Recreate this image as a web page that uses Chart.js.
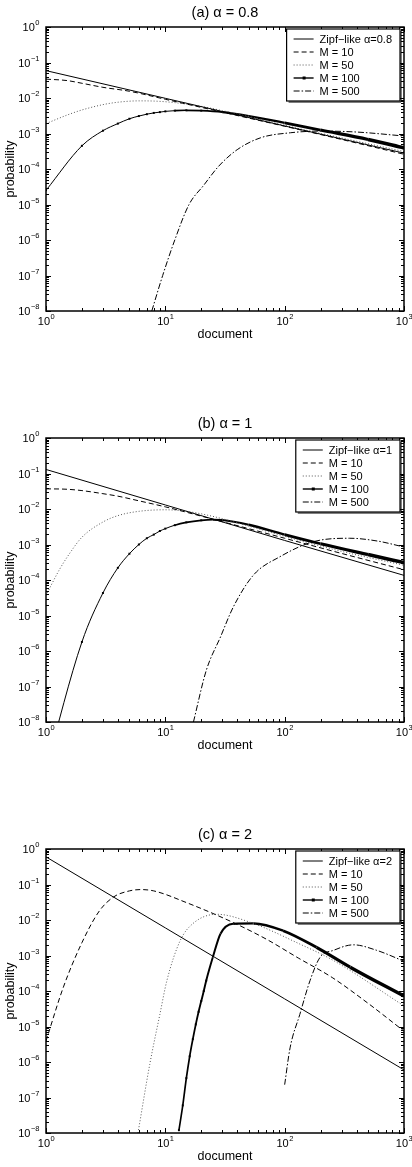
<!DOCTYPE html>
<html>
<head>
<meta charset="utf-8">
<script src="https://cdn.jsdelivr.net/npm/chart.js@4.4.1/dist/chart.umd.min.js"></script>
<style>
  html, body { margin: 0; padding: 0; background: #fff; }
  .panel { position: absolute; left: 0; width: 412px; height: 345px; }
</style>
</head>
<body>
<div class="panel" style="top:0"><canvas id="c0" width="412" height="345"></canvas></div>
<div class="panel" style="top:411px"><canvas id="c1" width="412" height="345"></canvas></div>
<div class="panel" style="top:822px"><canvas id="c2" width="412" height="345"></canvas></div>
<script>
// ---- text / ticks ----
var titles = ['(a) \u03b1 = 0.8', '(b) \u03b1 = 1', '(c) \u03b1 = 2'];
var zipfNames = ['Zipf\u2212like \u03b1=0.8', 'Zipf\u2212like \u03b1=1', 'Zipf\u2212like \u03b1=2'];
var mNames = ['M = 10', 'M = 50', 'M = 100', 'M = 500'];
var xTickExp = [0, 1, 2, 3];
var yTickExp = [0, -1, -2, -3, -4, -5, -6, -7, -8];

// ---- panel (a) alpha = 0.8 ----
var aZipfX = [1, 10, 100, 1000];
var aZipfY = [0.059, 0.0098, 0.00163, 0.00028];
var aM10X = [1, 1.5, 2, 3, 5, 10, 30, 100, 300, 1000];
var aM10Y = [0.034, 0.031, 0.026, 0.020, 0.0155, 0.0092, 0.0040, 0.0016, 0.00068, 0.00026];
var aM50X = [1, 1.5, 2, 3, 4, 6, 8, 12, 20, 30, 60, 100, 300, 1000];
var aM50Y = [0.0019, 0.0033, 0.0046, 0.0065, 0.0076, 0.0083, 0.0082, 0.0074, 0.0058, 0.0044, 0.0026, 0.0017, 0.00075, 0.00031];
var aM100X = [1, 2, 3, 4, 5, 6, 7, 8, 9, 10, 12, 15, 20, 30, 50, 100, 200, 500, 1000];
var aM100Y = [2.5e-5, 4.5e-4, 1.2e-3, 1.9e-3, 2.6e-3, 3.1e-3, 3.5e-3, 3.8e-3, 4.0e-3, 4.2e-3, 4.4e-3, 4.5e-3, 4.4e-3, 4.0e-3, 3.1e-3, 2.0e-3, 1.25e-3, 6.8e-4, 3.9e-4];
var aM500X = [7.7, 9.5, 12, 15.8, 21, 28, 40, 63, 112, 200, 400, 1000];
var aM500Y = [1e-8, 1e-7, 1e-6, 1e-5, 3.5e-5, 1.2e-4, 3.5e-4, 7.6e-4, 1.05e-3, 1.17e-3, 1.1e-3, 8.5e-4];

// ---- panel (b) alpha = 1 ----
var bZipfX = [1, 10, 100, 1000];
var bZipfY = [0.13, 0.013, 0.0013, 0.000135];
var bM10X = [1, 1.5, 2, 3, 4, 6, 10, 20, 30, 100, 300, 1000];
var bM10Y = [0.037, 0.036, 0.033, 0.027, 0.023, 0.017, 0.0115, 0.0063, 0.0044, 0.0015, 0.00056, 0.000195];
var bM50X = [1, 1.3, 1.6, 2, 3, 4, 6, 10, 15, 25, 50, 100, 300, 1000];
var bM50Y = [3.7e-5, 2e-4, 6e-4, 1.6e-3, 4.3e-3, 6.5e-3, 8.6e-3, 9.5e-3, 8.6e-3, 6.2e-3, 3.3e-3, 1.7e-3, 6.4e-4, 2.6e-4];
var bM100X = [1, 2, 3, 4, 5, 6, 7, 8, 9, 10, 12, 15, 20, 25, 30, 50, 100, 200, 500, 1000];
var bM100Y = [5e-10, 1.8e-6, 4.3e-5, 2.2e-4, 5.5e-4, 1.0e-3, 1.5e-3, 1.9e-3, 2.4e-3, 2.8e-3, 3.5e-3, 4.2e-3, 4.8e-3, 5.0e-3, 4.9e-3, 3.6e-3, 1.9e-3, 1.05e-3, 5.2e-4, 3.1e-4];
var bM500X = [17.2, 22, 29, 37, 55, 91, 174, 350, 600, 1000];
var bM500Y = [1e-8, 2.8e-7, 2.5e-6, 1.7e-5, 1.4e-4, 4.5e-4, 1.2e-3, 1.5e-3, 1.25e-3, 8.5e-4];

// ---- panel (c) alpha = 2 ----
var cZipfX = [1, 10, 100, 1000];
var cZipfY = [0.6, 0.006, 6e-5, 6e-7];
var cM10X = [1, 1.4, 2, 2.8, 3.7, 5, 6.2, 8, 15, 37, 70, 130, 250, 500, 1000];
var cM10Y = [3.9e-6, 1.3e-4, 2.3e-3, 0.018, 0.045, 0.066, 0.072, 0.066, 0.031, 8.5e-3, 2.9e-3, 8.5e-4, 2.4e-4, 4.5e-5, 7.4e-6];
var cM50X = [5.9, 7.4, 9, 10.3, 13.3, 17, 27, 51, 134, 257, 1000];
var cM50Y = [1e-8, 8.5e-7, 2.2e-5, 1.95e-4, 2.6e-3, 7.9e-3, 0.0145, 8.7e-3, 2.1e-3, 7.2e-4, 3.8e-5];
var cM100X = [13, 14, 15, 16, 17, 18, 19, 20, 21, 22, 25, 29, 37, 55, 97, 185, 354, 1000];
var cM100Y = [1.2e-8, 6e-8, 3.5e-7, 1.45e-6, 4.4e-6, 1.15e-5, 2.6e-5, 5.2e-5, 1.0e-4, 1.95e-4, 8.9e-4, 4.1e-3, 7.8e-3, 8.0e-3, 5.0e-3, 1.7e-3, 4.7e-4, 7.2e-5];
var cM500X = [100, 111, 134, 163, 198, 257, 377, 590, 1000];
var cM500Y = [2.3e-7, 2.5e-6, 2.2e-5, 1.95e-4, 8.9e-4, 1.4e-3, 2.0e-3, 1.4e-3, 6.9e-4];

var FONT = "'Liberation Sans', Arial, Helvetica, sans-serif";

function pts(xs, ys) {
  return xs.map(function (x, i) { return { x: x, y: ys[i] }; });
}

// draws "10" with a raised exponent
function powLabel(ctx, e, x, y, align) {
  var base = '10', ex = e < 0 ? '\u2212' + (-e) : String(e);
  ctx.font = '11px ' + FONT;
  var wb = ctx.measureText(base).width;
  ctx.font = '7.5px ' + FONT;
  var we = ctx.measureText(ex).width;
  var left = align === 'right' ? x - wb - we : x - (wb + we) / 2;
  ctx.textAlign = 'left';
  ctx.textBaseline = 'middle';
  ctx.font = '11px ' + FONT;
  ctx.fillText(base, left, y);
  ctx.font = '7.5px ' + FONT;
  ctx.fillText(ex, left + wb + 0.5, y - 5);
}

var matlabAxes = {
  id: 'matlabAxes',
  afterDatasetsDraw: function (chart, args, opts) {
    var ctx = chart.ctx, a = chart.chartArea;
    var xs = chart.scales.x, ys = chart.scales.y;
    ctx.save();
    ctx.strokeStyle = '#000';
    ctx.fillStyle = '#000';

    // inward ticks on all four sides
    ctx.lineWidth = 1;
    ctx.beginPath();
    xTickExp.forEach(function (e, i) {
      for (var k = 1; k <= 9; k++) {
        if (k > 1 && i === xTickExp.length - 1) break;
        var px = Math.round(xs.getPixelForValue(k * Math.pow(10, e))) + 0.5;
        var len = k === 1 ? 5 : 3;
        ctx.moveTo(px, a.bottom); ctx.lineTo(px, a.bottom - len);
        ctx.moveTo(px, a.top); ctx.lineTo(px, a.top + len);
      }
    });
    yTickExp.forEach(function (e, i) {
      for (var k = 1; k <= 9; k++) {
        if (k > 1 && i === 0) break;
        var py = Math.round(ys.getPixelForValue(k * Math.pow(10, e))) + 0.5;
        var len = k === 1 ? 5 : 3;
        ctx.moveTo(a.left, py); ctx.lineTo(a.left + len, py);
        ctx.moveTo(a.right, py); ctx.lineTo(a.right - len, py);
      }
    });
    ctx.stroke();

    // axes box
    ctx.lineWidth = 1.5;
    ctx.strokeRect(a.left, a.top, a.right - a.left, a.bottom - a.top);

    // tick labels
    xTickExp.forEach(function (e) {
      powLabel(ctx, e, xs.getPixelForValue(Math.pow(10, e)), a.bottom + 11, 'center');
    });
    yTickExp.forEach(function (e) {
      powLabel(ctx, e, a.left - 7, ys.getPixelForValue(Math.pow(10, e)) + 1, 'right');
    });

    // title and axis labels
    ctx.textAlign = 'center';
    ctx.textBaseline = 'middle';
    ctx.font = '14.5px ' + FONT;
    ctx.fillText(opts.title, (a.left + a.right) / 2, 13);
    ctx.font = '12.5px ' + FONT;
    ctx.fillText('document', (a.left + a.right) / 2, a.bottom + 24);
    ctx.save();
    ctx.translate(11, (a.top + a.bottom) / 2);
    ctx.rotate(-Math.PI / 2);
    ctx.fillText('probability', 0, 0);
    ctx.restore();

    // legend box in the upper right corner
    var sets = chart.data.datasets;
    ctx.font = '11px ' + FONT;
    var maxW = 0;
    sets.forEach(function (d) { maxW = Math.max(maxW, ctx.measureText(d.label).width); });
    var rowH = 13, bw = 33 + maxW + 8, bh = sets.length * rowH + 7;
    var bx = a.right - 4 - bw, by = a.top + 2;
    ctx.fillStyle = '#fff';
    ctx.fillRect(bx, by, bw, bh);
    ctx.fillStyle = '#000';
    ctx.lineWidth = 1.2;
    ctx.strokeRect(bx, by, bw, bh);
    ctx.lineWidth = 1;
    ctx.beginPath();
    ctx.moveTo(bx + bw + 1, by + 2); ctx.lineTo(bx + bw + 1, by + bh + 1); ctx.lineTo(bx + 2, by + bh + 1);
    ctx.stroke();
    sets.forEach(function (d, i) {
      var cy = by + 10 + i * rowH;
      ctx.save();
      ctx.strokeStyle = d.borderColor;
      ctx.lineWidth = d.legendWidth || 1;
      ctx.setLineDash(d.borderDash || []);
      ctx.beginPath();
      ctx.moveTo(bx + 7, cy); ctx.lineTo(bx + 27, cy);
      ctx.stroke();
      ctx.restore();
      if (d.legendMarker) {
        ctx.fillRect(bx + 16, cy - 1.5, 3, 3);
      }
      ctx.textAlign = 'left';
      ctx.textBaseline = 'middle';
      ctx.fillText(d.label, bx + 33, cy + 0.5);
    });
    ctx.restore();
  }
};

// dense markers at every document make the M = 100 line look thicker to the right
function m100Width(ctx) {
  var x = ctx.p0.parsed.x;
  if (x < 12) return 1;
  return Math.min(4, 1.5 + 1.25 * Math.log10(x / 10));
}

function makePanel(id, title, zipfName, series) {
  var styles = [
    { borderDash: [] },
    { borderDash: [5, 3] },
    { borderDash: [1, 2], borderColor: '#555' },
    { borderDash: [], m100: true },
    { borderDash: [6, 2, 1.5, 2] }
  ];
  var labels = [zipfName].concat(mNames);
  var datasets = series.map(function (s, i) {
    var st = styles[i];
    var d = {
      label: labels[i],
      data: pts(s[0], s[1]),
      borderColor: st.borderColor || '#000',
      backgroundColor: '#000',
      borderWidth: 1,
      borderDash: st.borderDash,
      cubicInterpolationMode: 'monotone',
      pointRadius: 0,
      fill: false
    };
    if (st.m100) {
      d.legendWidth = 1.4;
      d.legendMarker = true;
      d.pointStyle = 'rect';
      d.pointRadius = function (c) {
        var r = c.raw;
        return r && Number.isInteger(r.x) && r.x <= 22 ? 1.4 : 0;
      };
      d.pointBorderWidth = 0;
      d.pointBackgroundColor = '#000';
      d.segment = { borderWidth: m100Width };
    }
    return d;
  });
  new Chart(document.getElementById(id), {
    type: 'line',
    data: { datasets: datasets },
    options: {
      responsive: false,
      animation: false,
      events: [],
      layout: { padding: { left: 46, right: 8, top: 27, bottom: 34 } },
      plugins: {
        legend: { display: false },
        tooltip: { enabled: false },
        matlabAxes: { title: title }
      },
      scales: {
        x: { type: 'logarithmic', min: 1, max: 1000, display: false },
        y: { type: 'logarithmic', min: 1e-8, max: 1, display: false }
      }
    },
    plugins: [matlabAxes]
  });
}

makePanel('c0', titles[0], zipfNames[0], [[aZipfX, aZipfY], [aM10X, aM10Y], [aM50X, aM50Y], [aM100X, aM100Y], [aM500X, aM500Y]]);
makePanel('c1', titles[1], zipfNames[1], [[bZipfX, bZipfY], [bM10X, bM10Y], [bM50X, bM50Y], [bM100X, bM100Y], [bM500X, bM500Y]]);
makePanel('c2', titles[2], zipfNames[2], [[cZipfX, cZipfY], [cM10X, cM10Y], [cM50X, cM50Y], [cM100X, cM100Y], [cM500X, cM500Y]]);
</script>
</body>
</html>
